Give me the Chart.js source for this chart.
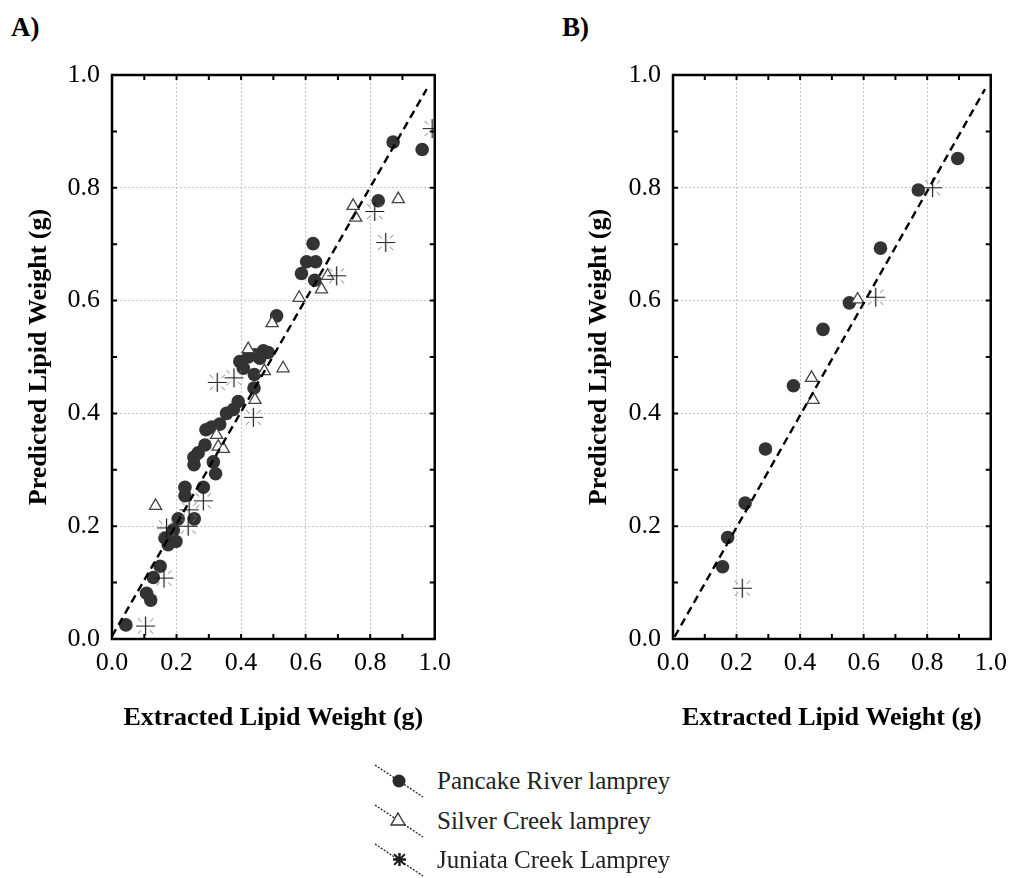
<!DOCTYPE html>
<html>
<head>
<meta charset="utf-8">
<script src="https://cdn.jsdelivr.net/npm/chart.js@4.4.0/dist/chart.umd.min.js"></script>
<style>
  body { margin: 0; background: #fff; width: 1016px; height: 878px; position: relative; overflow: hidden; font-family: "Liberation Serif", serif; }
  .box { position: absolute; top: 0; height: 740px; }
  #boxA { left: 0; width: 460px; }
  #boxB { left: 560px; width: 456px; }
  .tag { position: absolute; top: 12px; font: bold 27px "Liberation Serif", serif; color: #000; }
  .leg { position: absolute; left: 371px; width: 400px; height: 40px; }
  .leg canvas { position: absolute; left: 0; top: 0; }
  .leg span { position: absolute; left: 66px; top: 0; line-height: 40px; font-size: 25px; color: #222; white-space: nowrap; }
</style>
</head>
<body>
<div class="tag" style="left:11px">A)</div>
<div class="tag" style="left:562px">B)</div>
<div class="box" id="boxA"><canvas id="chartA" width="460" height="740"></canvas></div>
<div class="box" id="boxB"><canvas id="chartB" width="456" height="740"></canvas></div>
<div id="legend"></div>

<script>
// panel A - all fish
let pancakeAx = [0.871, 0.961, 0.825, 0.623, 0.603, 0.631, 0.587, 0.628, 0.510,
  0.469, 0.484, 0.443, 0.422, 0.458, 0.396, 0.407, 0.441, 0.440, 0.391, 0.376, 0.355,
  0.334, 0.309, 0.291, 0.288, 0.267, 0.254, 0.254, 0.314, 0.321, 0.226, 0.226, 0.283,
  0.255, 0.205, 0.190, 0.164, 0.198, 0.174, 0.149, 0.128, 0.107, 0.120, 0.043];
let pancakeAy = [0.881, 0.868, 0.777, 0.701, 0.669, 0.669, 0.648, 0.636, 0.573,
  0.511, 0.508, 0.504, 0.500, 0.498, 0.492, 0.480, 0.469, 0.445, 0.421, 0.407, 0.400,
  0.381, 0.376, 0.371, 0.344, 0.330, 0.322, 0.309, 0.314, 0.293, 0.269, 0.254, 0.269,
  0.213, 0.213, 0.193, 0.179, 0.173, 0.167, 0.129, 0.109, 0.081, 0.069, 0.025];
let silverAx = [0.747, 0.755, 0.887, 0.668, 0.649, 0.580, 0.496, 0.422, 0.530, 0.472, 0.443, 0.324, 0.329, 0.345, 0.135];
let silverAy = [0.768, 0.747, 0.780, 0.644, 0.620, 0.605, 0.560, 0.514, 0.480, 0.475, 0.424, 0.362, 0.341, 0.337, 0.236];
let juniataAx = [0.992, 0.814, 0.848, 0.696, 0.326, 0.378, 0.438, 0.283, 0.239, 0.236, 0.169, 0.161, 0.104];
let juniataAy = [0.905, 0.758, 0.703, 0.644, 0.455, 0.463, 0.393, 0.245, 0.229, 0.200, 0.197, 0.108, 0.023];
let fitAx = [0.0, 0.975];
let fitAy = [0.005, 0.975];

// panel B - validation fish
let pancakeBx = [0.896, 0.772, 0.653, 0.555, 0.472, 0.379, 0.291, 0.227, 0.172, 0.156];
let pancakeBy = [0.852, 0.796, 0.693, 0.596, 0.549, 0.449, 0.337, 0.241, 0.180, 0.128];
let silverBx = [0.581, 0.436, 0.441];
let silverBy = [0.602, 0.463, 0.424];
let juniataBx = [0.817, 0.638, 0.218];
let juniataBy = [0.800, 0.606, 0.090];
let fitBx = [0.005, 0.982];
let fitBy = [0.004, 0.975];

let tickLabels = ["0.0", "0.2", "0.4", "0.6", "0.8", "1.0"];
let seriesNames = ["Pancake River lamprey", "Silver Creek lamprey", "Juniata Creek Lamprey"];

function pts(xs, ys) {
    return xs.map((x, i) => ({ x: x, y: ys[i] }));
}

// asterisk-like marker: plus sign with small diagonal strokes
function starMark(size, bold) {
    let c = document.createElement("canvas");
    c.width = size;
    c.height = size;
    let g = c.getContext("2d");
    let m = size / 2;
    g.strokeStyle = "#1a1a1a";
    g.lineWidth = bold ? 2.4 : 1.2;
    g.beginPath();
    g.moveTo(m, 1); g.lineTo(m, size - 1);
    g.moveTo(1, m); g.lineTo(size - 1, m);
    g.stroke();
    g.strokeStyle = bold ? "#1a1a1a" : "#777";
    g.lineWidth = bold ? 2 : 1;
    let r1 = bold ? 1 : size * 0.2, r2 = size * 0.36;
    [[1, 1], [1, -1], [-1, 1], [-1, -1]].forEach(d => {
        g.beginPath();
        g.moveTo(m + d[0] * r1, m + d[1] * r1);
        g.lineTo(m + d[0] * r2, m + d[1] * r2);
        g.stroke();
    });
    return c;
}

let starImg = starMark(21, false);

// frame round the plot with inward ticks every 0.1
let framePlugin = {
    id: "frame",
    afterDatasetsDraw(chart) {
        let ctx = chart.ctx;
        let a = chart.chartArea;
        let sx = chart.scales.x, sy = chart.scales.y;
        ctx.save();
        ctx.strokeStyle = "#000";
        ctx.lineWidth = 2.5;
        ctx.strokeRect(a.left, a.top, a.right - a.left, a.bottom - a.top);
        ctx.lineWidth = 2;
        ctx.beginPath();
        for (let i = 1; i < 10; i++) {
            let px = sx.getPixelForValue(i / 10);
            let py = sy.getPixelForValue(i / 10);
            ctx.moveTo(px, a.bottom); ctx.lineTo(px, a.bottom - 5);
            ctx.moveTo(px, a.top); ctx.lineTo(px, a.top + 5);
            ctx.moveTo(a.left, py); ctx.lineTo(a.left + 5, py);
            ctx.moveTo(a.right, py); ctx.lineTo(a.right - 5, py);
        }
        ctx.stroke();
        ctx.restore();
    }
};

function makeChart(id, yWidth, rightPad, circ, tri, star, fit) {
    let tickFont = { family: "Liberation Serif", size: 26 };
    let titleFont = { family: "Liberation Serif", size: 26, weight: "bold" };
    let gridCfg = { color: "#c4c4c4", lineWidth: 1, drawTicks: false };
    let fmt = v => tickLabels[Math.round(v * 5)];
    return new Chart(id, {
        type: "scatter",
        data: {
            datasets: [
                {
                    type: "line", label: "fit", data: fit, order: 0,
                    borderColor: "#000", borderWidth: 2.4, borderDash: [8, 5],
                    pointRadius: 0, fill: false, tension: 0
                },
                {
                    label: seriesNames[2], data: star, order: 1,
                    pointStyle: starImg, pointRadius: 10
                },
                {
                    label: seriesNames[1], data: tri, order: 2,
                    pointStyle: "triangle", pointRadius: 7,
                    backgroundColor: "#fff", borderColor: "#444", borderWidth: 1.3
                },
                {
                    label: seriesNames[0], data: circ, order: 3,
                    pointStyle: "circle", pointRadius: 6.8,
                    backgroundColor: "#333", borderColor: "#333", borderWidth: 0
                }
            ]
        },
        options: {
            responsive: false,
            animation: false,
            layout: { padding: { left: 0, top: 75, right: rightPad, bottom: 0 } },
            plugins: { legend: { display: false }, tooltip: { enabled: false } },
            scales: {
                x: {
                    type: "linear", min: 0, max: 1,
                    afterFit: s => { s.height = 101; },
                    ticks: { stepSize: 0.2, padding: 9, color: "#000", font: tickFont, callback: fmt, maxRotation: 0 },
                    grid: gridCfg,
                    border: { display: false, dash: [2, 2] },
                    title: { display: true, text: "Extracted Lipid Weight (g)", color: "#000", font: titleFont, padding: { top: 0, bottom: 6 } }
                },
                y: {
                    type: "linear", min: 0, max: 1,
                    afterFit: s => { s.width = yWidth; },
                    ticks: { stepSize: 0.2, padding: 12, color: "#000", font: tickFont, callback: fmt },
                    grid: gridCfg,
                    border: { display: false, dash: [2, 2] },
                    title: { display: true, text: "Predicted Lipid Weight (g)", color: "#000", font: titleFont, padding: { top: 24, bottom: 0 } }
                }
            }
        },
        plugins: [framePlugin]
    });
}

makeChart("chartA", 112, 25,
    pts(pancakeAx, pancakeAy), pts(silverAx, silverAy), pts(juniataAx, juniataAy), pts(fitAx, fitAy));
makeChart("chartB", 113, 21,
    pts(pancakeBx, pancakeBy), pts(silverBx, silverBy), pts(juniataBx, juniataBy), pts(fitBx, fitBy));

// shared legend under both panels
let legendRows = [781, 821, 860];
let legendBox = document.getElementById("legend");
for (let i = 0; i < 3; i++) {
    let row = document.createElement("div");
    row.className = "leg";
    row.style.top = (legendRows[i] - 20) + "px";
    let c = document.createElement("canvas");
    c.width = 56;
    c.height = 40;
    row.appendChild(c);
    let g = c.getContext("2d");
    g.strokeStyle = "#222";
    g.lineWidth = 1.3;
    g.setLineDash([2, 1.5]);
    g.beginPath();
    g.moveTo(4, 4);
    g.lineTo(52, 36);
    g.stroke();
    g.setLineDash([]);
    if (i == 0) {
        g.fillStyle = "#2a2a2a";
        g.beginPath();
        g.arc(28, 20, 6.5, 0, Math.PI * 2);
        g.fill();
    } else if (i == 1) {
        g.fillStyle = "#fff";
        g.strokeStyle = "#333";
        g.lineWidth = 1.4;
        g.beginPath();
        g.moveTo(27, 12);
        g.lineTo(34, 24);
        g.lineTo(20, 24);
        g.closePath();
        g.fill();
        g.stroke();
    } else {
        g.drawImage(starMark(15, true), 21, 12);
    }
    let t = document.createElement("span");
    t.textContent = seriesNames[i];
    row.appendChild(t);
    legendBox.appendChild(row);
}
</script>
</body>
</html>
